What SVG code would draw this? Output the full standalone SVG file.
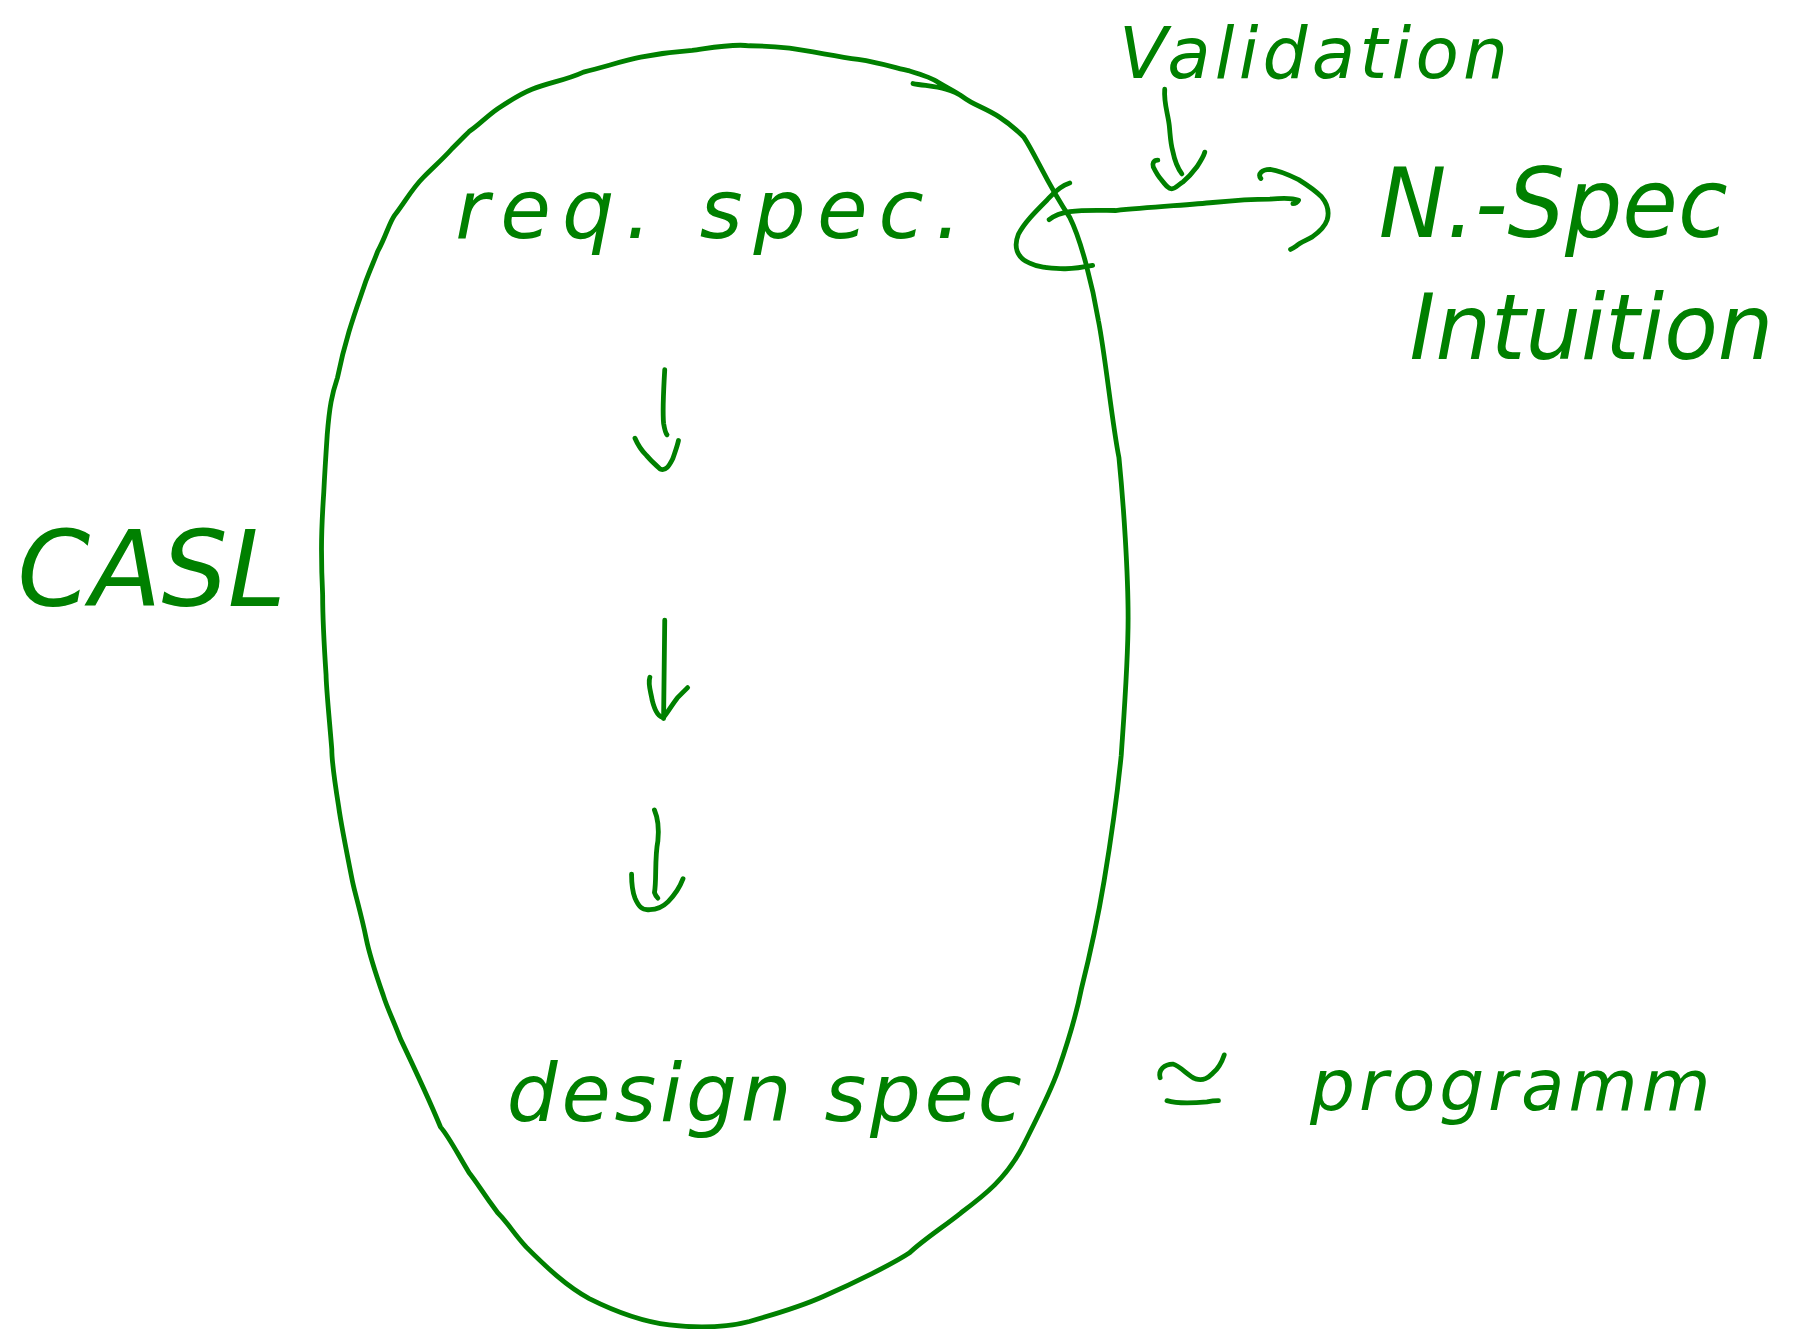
<svg xmlns="http://www.w3.org/2000/svg" width="1794" height="1329" viewBox="0 0 1794 1329">
<style>
.ink{fill:none;stroke:#008000;stroke-width:4.2;stroke-linecap:round;stroke-linejoin:round}
.t{fill:#008000;font-family:"DejaVu Sans","Liberation Sans",sans-serif;font-style:italic}
</style>
<rect width="1794" height="1329" fill="#ffffff"/>
<g transform="scale(1.14413)">
<g id="casl-region">
<path class="ink" d="M798,73 C815,76 830,76 842,85 C855,95 870,95 895,120 C905,135 915,160 935,190 C945,210 955,250 960,280 C966,310 972,370 978,400 C982,440 986,500 986,540 C986,580 982,630 980,660 C977,690 970,740 965,770 C960,800 950,845 945,865 C940,890 932,915 925,935 C918,955 905,980 895,1000 C880,1030 860,1045 840,1060 C825,1072 805,1085 795,1095 C780,1105 745,1122 720,1133 C700,1142 680,1148 655,1155 C635,1160 610,1161 585,1158 C560,1155 535,1145 515,1135 C495,1124 478,1108 460,1090 C448,1077 445,1070 435,1060 C420,1040 418,1035 410,1025 C398,1005 392,993 385,985 C378,968 370,950 350,908 C343,890 338,880 335,870 C328,850 322,830 320,820 C316,800 310,780 308,770 C303,745 298,720 296,705 C292,680 290,665 290,655 C288,630 285,600 285,590 C283,560 282,540 282,520 C281,500 281,490 281,480 C281,460 282,445 283,430 C284,410 285,395 286,380 C288,355 290,345 295,330 C298,315 302,300 305,290 C311,270 315,260 320,245 C325,232 327,228 330,220 C338,205 340,195 345,188 C355,175 360,165 370,155 C380,145 388,138 395,130 C402,123 405,120 410,115 C420,108 425,102 435,95 C447,87 455,82 465,78 C480,72 495,70 510,63 C530,58 545,53 560,50 C575,47 590,45 605,44 C620,42 640,38 655,40 C670,40 680,41 690,42 C710,45 730,49 750,52 C770,55 785,60 795,62 C805,65 815,68 820,72 C830,78 835,80 842,85"/>
</g>
<g id="connectors">
<path class="ink" d="M581,323 C580,340 579,360 580,370 C581,376 582,379 583,380"/>
<path class="ink" d="M555,383 C558,390 562,395 565,398 C570,404 574,407 577,410 C582,412 585,407 588,401 C590,395 592,390 593,385"/>
<path class="ink" d="M581,542 L580,628"/>
<path class="ink" d="M568,592 C566,598 569,605 570,612 C572,620 575,627 580,627 C584,622 588,615 592,610 C596,606 599,603 601,601"/>
<path class="ink" d="M572,708 C575,715 576,725 575,735 C572,750 574,770 572,780 C573,783 574,784 575,785"/>
<path class="ink" d="M552,764 C552,772 553,780 555,785 C558,792 561,796 568,795 C575,795 580,792 584,788 C590,782 594,776 597,768"/>
<path class="ink" d="M935,160 C925,163 918,172 915,175 C905,185 895,195 890,205 C886,215 888,225 900,230 C908,234 912,233 915,234 C925,235 935,236 955,232"/>
<path class="ink" d="M917,192 C922,188 928,186 935,185 C950,183 965,184 975,184 C1005,181 1040,179 1060,177 C1080,175 1098,174 1110,174 C1120,173 1130,173 1135,175 C1134,177 1132,178 1130,178"/>
<path class="ink" d="M1102,156 C1099,152 1103,148 1110,148 C1118,149 1125,152 1135,157 C1143,162 1150,167 1155,172 C1160,178 1162,185 1160,192 C1158,198 1154,202 1147,207 C1142,210 1136,212 1133,215 C1130,217 1128,218 1128,218"/>
<path class="ink" d="M1018,78 C1017,90 1021,100 1022,110 C1023,120 1023,125 1025,132 C1027,142 1030,148 1033,152"/>
<path class="ink" d="M1012,140 C1008,140 1007,143 1008,146 C1010,150 1013,155 1015,157 C1019,162 1021,165 1024,165 C1028,165 1030,161 1034,159 C1040,154 1043,150 1046,146 C1050,140 1052,137 1053,133"/>
<path class="ink" d="M1020,962 C1030,965 1045,964 1055,963 C1060,962 1063,962 1065,962"/>
</g>
<g id="node-req-spec"><text class="t" x="398" y="208" font-size="72" textLength="442" lengthAdjust="spacing">req. spec.</text></g>
<g id="node-design-spec"><text class="t" x="443" y="980" font-size="70" textLength="450" lengthAdjust="spacing">design spec</text></g>
<g id="node-casl"><text class="t" x="15" y="530" font-size="92" textLength="235" lengthAdjust="spacingAndGlyphs">CASL</text></g>
<g id="node-validation"><text class="t" x="978" y="68" font-size="62" textLength="340" lengthAdjust="spacing">Validation</text></g>
<g id="node-nspec"><text class="t" x="1205" y="207" font-size="84" textLength="305" lengthAdjust="spacingAndGlyphs">N.-Spec</text></g>
<g id="node-intuition"><text class="t" x="1232" y="314" font-size="80" textLength="318" lengthAdjust="spacingAndGlyphs">Intuition</text></g>
<g id="node-programm">
<path class="ink" d="M1014,942 C1012,935 1018,930 1025,930 C1032,932 1038,940 1045,943 C1052,945 1056,942 1060,938 C1066,933 1068,928 1070,922"/>
<text class="t" x="1145" y="970" font-size="62" textLength="350" lengthAdjust="spacing">programm</text></g>
</g>
</svg>
